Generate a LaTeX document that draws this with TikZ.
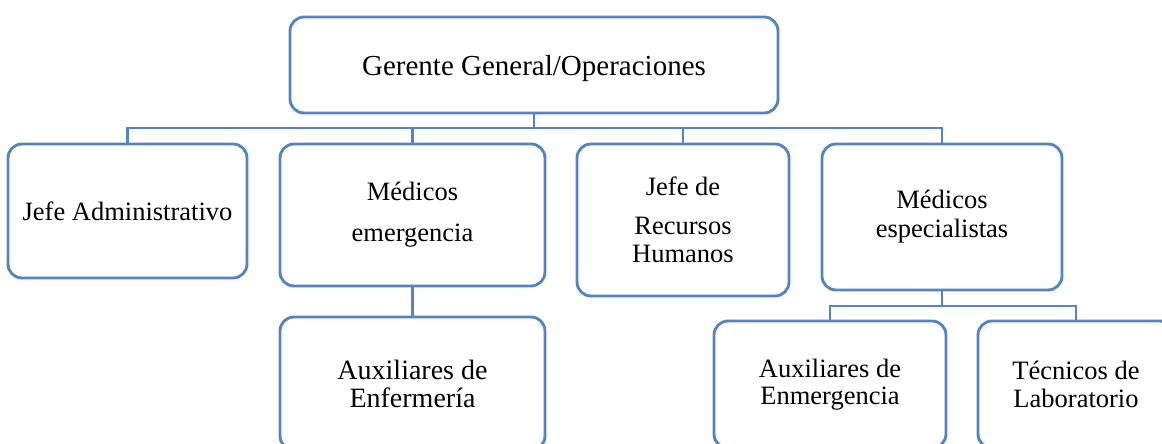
\documentclass[tikz,border=0pt]{standalone}
\usepackage{fontspec}
\setmainfont{Liberation Serif}
\definecolor{boxblue}{RGB}{84,132,194}
\begin{document}
\begin{tikzpicture}[x=1pt,y=-1pt,
  orgbox/.style={draw=boxblue, line width=2.9pt, rounded corners=14pt, fill=white,
    rectangle, align=center, inner sep=0pt, text=black},
  conn/.style={draw=boxblue, line width=2.7pt}]
\useasboundingbox (0,0) rectangle (1162,444);
\clip (0,0) rectangle (1162,444);
\node[orgbox, minimum width=488pt, minimum height=96pt, font=\fontsize{29}{34}\selectfont] (top) at (534,65) {\raisebox{-4pt}[\height][\depth]{Gerente General/Operaciones}};
\node[orgbox, minimum width=239pt, minimum height=134pt, font=\fontsize{26.5}{30}\selectfont] (b1) at (127.5,211) {Jefe Administrativo};
\node[orgbox, minimum width=265pt, minimum height=142pt, font=\fontsize{26.5}{41}\selectfont] (b2) at (412.5,215) {Médicos\\emergencia};
\node[orgbox, minimum width=212pt, minimum height=152pt, font=\fontsize{26.5}{28}\selectfont] (b3) at (683,220) {Jefe de\\[11pt]Recursos\\Humanos};
\node[orgbox, minimum width=240pt, minimum height=146pt, font=\fontsize{26.5}{29}\selectfont] (b4) at (942,217) {Médicos\\especialistas};
\node[orgbox, minimum width=265pt, minimum height=133pt, font=\fontsize{28}{28}\selectfont] (b5) at (412.5,383.5) {Auxiliares de\\Enfermería};
\node[orgbox, minimum width=232pt, minimum height=127pt, font=\fontsize{26.5}{27}\selectfont] (b6) at (830,384.5) {Auxiliares de\\Enmergencia};
\node[orgbox, minimum width=196pt, minimum height=127pt, font=\fontsize{26.5}{28}\selectfont] (b7) at (1076,384.5) {Técnicos de\\Laboratorio};
\coordinate (bar) at (0,128);
\coordinate (bartwo) at (0,306);
\draw[conn] (top.south) -- (top.south |- bar);
\draw[conn] (b1.north) -- (b1.north |- bar) -- (b4.north |- bar) -- (b4.north);
\draw[conn] (b2.north) -- (b2.north |- bar);
\draw[conn] (b3.north) -- (b3.north |- bar);
\draw[conn] (b2.south) -- (b5.north);
\draw[conn] (b4.south) -- (b4.south |- bartwo);
\draw[conn] (b6.north) -- (b6.north |- bartwo) -- (b7.north |- bartwo) -- (b7.north);
\end{tikzpicture}
\end{document}
